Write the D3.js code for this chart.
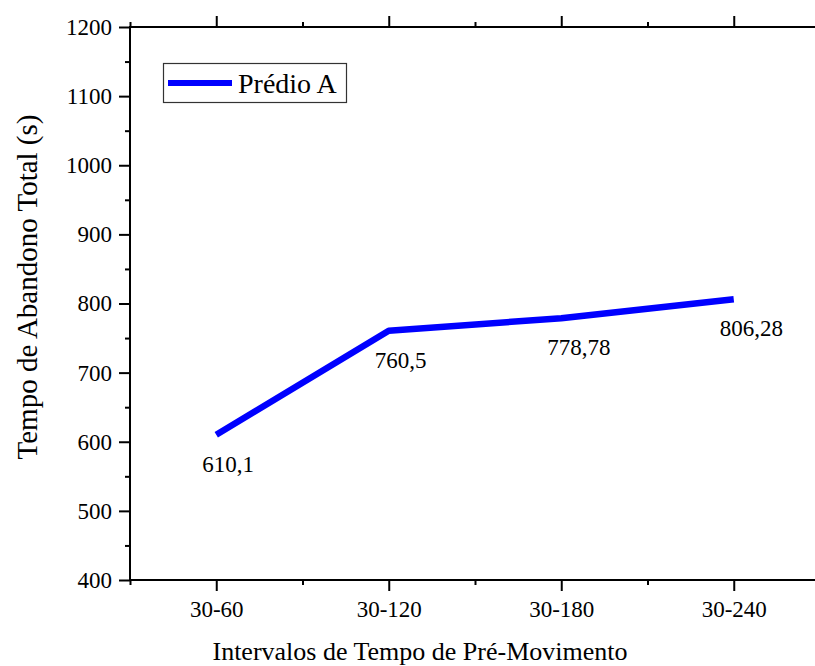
<!DOCTYPE html>
<html>
<head>
<meta charset="utf-8">
<title>Tempo de Abandono Total</title>
<script src="https://cdn.jsdelivr.net/npm/d3@7/dist/d3.min.js"></script>
<style>
  body { margin: 0; background: #fff; }
  svg { display: block; }
  svg text { font-family: "Liberation Serif", "Times New Roman", serif; }
</style>
</head>
<body>
<svg id="chart" width="815" height="666"></svg>
<script>
// data
var categories = ["30-60", "30-120", "30-180", "30-240"];
var values = [610.1, 760.5, 778.78, 806.28];
var valueLabels = ["610,1", "760,5", "778,78", "806,28"];
var seriesName = "Prédio A";
var yTicks = [400, 500, 600, 700, 800, 900, 1000, 1100, 1200];

var svg = d3.select("#chart");
// plot frame (note: "top" is taken by window.top)
var frame = {left: 130, right: 820, top: 27, bottom: 580};

var x = d3.scaleLinear()
    .domain([-0.5, categories.length - 0.5])
    .range([frame.left, frame.right]);

var y = d3.scaleLinear()
    .domain([400, 1200])
    .range([frame.bottom, frame.top]);

var major = d3.range(categories.length);
var minor = d3.range(categories.length + 1).map(i => i - 0.5);
var yMinor = d3.range(450, 1200, 100);

function styleAxis(g) {
  g.select(".domain").remove();
  g.attr("font-family", null).attr("font-size", null);
  g.selectAll("line").attr("stroke", "#000").attr("stroke-width", 2);
  g.selectAll("text").attr("fill", "#000").style("font-size", "23px");
}

// bottom axis
svg.append("g")
    .attr("transform", "translate(0," + frame.bottom + ")")
    .call(d3.axisBottom(x).tickValues(minor).tickSize(5).tickFormat(""))
    .call(styleAxis);
svg.append("g")
    .attr("transform", "translate(0," + frame.bottom + ")")
    .call(d3.axisBottom(x).tickValues(major).tickSize(11).tickPadding(10)
      .tickFormat(i => categories[i]))
    .call(styleAxis);

// top axis (no labels)
svg.append("g")
    .attr("transform", "translate(0," + frame.top + ")")
    .call(d3.axisTop(x).tickValues(minor).tickSize(5).tickFormat(""))
    .call(styleAxis);
svg.append("g")
    .attr("transform", "translate(0," + frame.top + ")")
    .call(d3.axisTop(x).tickValues(major).tickSize(11).tickFormat(""))
    .call(styleAxis);

// left axis
svg.append("g")
    .attr("transform", "translate(" + frame.left + ",0)")
    .call(d3.axisLeft(y).tickValues(yMinor).tickSize(5).tickFormat(""))
    .call(styleAxis);
svg.append("g")
    .attr("transform", "translate(" + frame.left + ",0)")
    .call(d3.axisLeft(y).tickValues(yTicks).tickSize(11).tickPadding(7)
      .tickFormat(d3.format("d")))
    .call(styleAxis);

// axis lines
svg.append("line")
    .attr("x1", frame.left).attr("x2", frame.right)
    .attr("y1", frame.bottom).attr("y2", frame.bottom)
    .attr("stroke", "#000").attr("stroke-width", 2);
svg.append("line")
    .attr("x1", frame.left).attr("x2", frame.right)
    .attr("y1", frame.top).attr("y2", frame.top)
    .attr("stroke", "#000").attr("stroke-width", 2);
svg.append("line")
    .attr("x1", frame.left).attr("x2", frame.left)
    .attr("y1", frame.top - 1).attr("y2", frame.bottom + 1)
    .attr("stroke", "#000").attr("stroke-width", 2);

// series line
var line = d3.line()
    .x((d, i) => x(i))
    .y(d => y(d));

svg.append("path")
    .datum(values)
    .attr("fill", "none")
    .attr("stroke", "#0000ff")
    .attr("stroke-width", 6.5)
    .attr("stroke-linejoin", "round")
    .attr("d", line);

// value labels
svg.append("g")
  .selectAll("text")
  .data(values)
  .join("text")
    .attr("x", (d, i) => x(i) - 14)
    .attr("y", d => y(d) + 37)
    .style("font-size", "23px")
    .text((d, i) => valueLabels[i]);

// legend
var legend = svg.append("g");
legend.append("rect")
    .attr("x", 163.5).attr("y", 63.5)
    .attr("width", 183).attr("height", 39)
    .attr("fill", "#fff").attr("stroke", "#333").attr("stroke-width", 1.2);
legend.append("line")
    .attr("x1", 168).attr("x2", 232).attr("y1", 83).attr("y2", 83)
    .attr("stroke", "#0000ff").attr("stroke-width", 6);
legend.append("text")
    .attr("x", 238).attr("y", 93)
    .style("font-size", "28px")
    .text(seriesName);

// axis titles
svg.append("text")
    .attr("x", 420).attr("y", 660)
    .attr("text-anchor", "middle")
    .style("font-size", "26px")
    .text("Intervalos de Tempo de Pré-Movimento");

svg.append("text")
    .attr("transform", "translate(37,287) rotate(-90)")
    .attr("text-anchor", "middle")
    .style("font-size", "29px")
    .text("Tempo de Abandono Total (s)");
</script>
</body>
</html>
